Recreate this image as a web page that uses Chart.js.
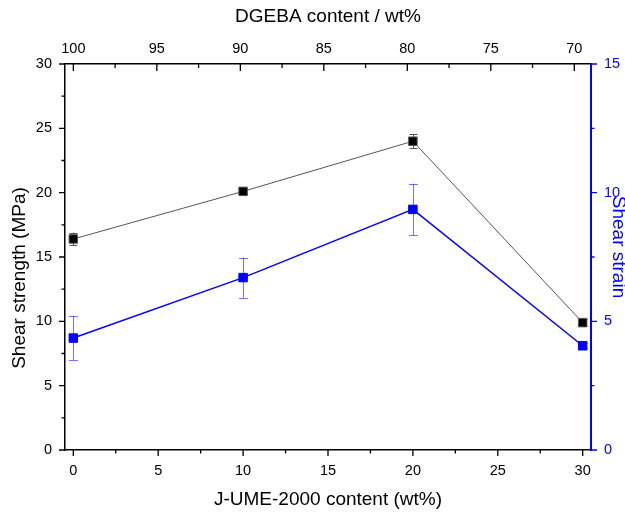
<!DOCTYPE html>
<html>
<head>
<meta charset="utf-8">
<script src="https://cdn.jsdelivr.net/npm/chart.js@4.4.0/dist/chart.umd.min.js"></script>
<style>
html, body { margin: 0; padding: 0; background: #fff; }
#wrap { width: 625px; height: 514px; }
</style>
</head>
<body>
<div id="wrap"><canvas id="chart" width="625" height="514"></canvas></div>
<script>
// data
const jumeContent = [0, 10, 20, 30];            // J-UME-2000 content (wt%)
const shearStrength = [16.4, 20.1, 24.0, 9.9];   // MPa, left axis
const shearStrengthErr = [0.5, 0.2, 0.55, 0.3];
const shearStrain = [4.35, 6.7, 9.35, 4.05];     // right axis
const shearStrainErr = [0.85, 0.78, 1.0, 0.1];

const FONT = "'Liberation Sans', Arial, sans-serif";
const BLUE = '#0000ff';

// error bars, drawn behind the markers
const errorBars = {
    id: 'errorBars',
    beforeDatasetsDraw(chart) {
        const ctx = chart.ctx;
        chart.data.datasets.forEach((ds, i) => {
            const meta = chart.getDatasetMeta(i);
            const xs = chart.scales[meta.xAxisID];
            const ys = chart.scales[meta.yAxisID];
            ctx.save();
            ctx.strokeStyle = ds.errColor;
            ctx.lineWidth = 1;
            ds.data.forEach((p, j) => {
                const e = ds.err[j];
                const x = Math.round(xs.getPixelForValue(p.x)) + 0.5;
                const y1 = ys.getPixelForValue(p.y + e);
                const y2 = ys.getPixelForValue(p.y - e);
                const cap = ds.capWidth / 2;
                ctx.beginPath();
                ctx.moveTo(x, y1); ctx.lineTo(x, y2);
                ctx.moveTo(x - cap, Math.round(y1) + 0.5); ctx.lineTo(x + cap, Math.round(y1) + 0.5);
                ctx.moveTo(x - cap, Math.round(y2) + 0.5); ctx.lineTo(x + cap, Math.round(y2) + 0.5);
                ctx.stroke();
            });
            ctx.restore();
        });
    }
};

// major + minor tick marks (Origin style: top ticks point inward)
const tickMarks = {
    id: 'tickMarks',
    afterDraw(chart) {
        const ctx = chart.ctx;
        const sets = [
            { s: chart.scales.x, dir: 1, color: '#000', major: 6, minor: 3.5 },
            { s: chart.scales.x2, dir: 1, color: '#000', major: 7, minor: 4 },
            { s: chart.scales.y, dir: -1, color: '#000', major: 6, minor: 3.5 },
            { s: chart.scales.y2, dir: 1, color: BLUE, major: 6, minor: 3.5 }
        ];
        sets.forEach(({ s, dir, color, major, minor }) => {
            const vals = s.ticks.map(t => t.value);
            const step = vals.length > 1 ? Math.abs(vals[1] - vals[0]) : 5;
            const all = [];
            vals.forEach(v => all.push({ v, len: major }));
            const lo = Math.min(...vals) - step, hi = Math.max(...vals) + step;
            for (let v = lo + step / 2; v < hi; v += step) {
                if (v >= s.min && v <= s.max) all.push({ v, len: minor });
            }
            ctx.save();
            ctx.strokeStyle = color;
            ctx.lineWidth = 1.3;
            ctx.beginPath();
            all.forEach(({ v, len }) => {
                const p = s.getPixelForValue(v);
                if (s.isHorizontal()) {
                    const y0 = s.position === 'bottom' ? s.top : s.bottom;
                    ctx.moveTo(p, y0); ctx.lineTo(p, y0 + dir * len);
                } else {
                    const x0 = s.position === 'left' ? s.right : s.left;
                    ctx.moveTo(x0, p); ctx.lineTo(x0 + dir * len, p);
                }
            });
            ctx.stroke();
            ctx.restore();
        });
    }
};

// axis titles
const axisTitles = {
    id: 'axisTitles',
    afterDraw(chart) {
        const ctx = chart.ctx;
        ctx.save();
        ctx.font = '19px ' + FONT;
        ctx.textAlign = 'center';
        ctx.textBaseline = 'middle';
        ctx.fillStyle = '#000';
        ctx.fillText('DGEBA content / wt%', 328, 17);
        ctx.fillText('J-UME-2000 content (wt%)', 328, 500);
        ctx.save();
        ctx.translate(20, 278);
        ctx.rotate(-Math.PI / 2);
        ctx.fillText('Shear strength (MPa)', 0, 0);
        ctx.restore();
        ctx.fillStyle = BLUE;
        ctx.translate(618, 247);
        ctx.rotate(Math.PI / 2);
        ctx.fillText('Shear strain', 0, 0);
        ctx.restore();
    }
};

const tickFont = { family: FONT, size: 14.5 };

new Chart(document.getElementById('chart'), {
    type: 'line',
    data: {
        datasets: [
            {
                label: 'Shear strength',
                data: jumeContent.map((x, i) => ({ x, y: shearStrength[i] })),
                err: shearStrengthErr,
                errColor: '#555',
                capWidth: 8,
                xAxisID: 'x',
                yAxisID: 'y',
                borderColor: '#555',
                borderWidth: 1,
                pointStyle: 'rect',
                pointRadius: 6,
                pointBackgroundColor: '#000',
                pointBorderColor: '#555',
                pointBorderWidth: 1,
                tension: 0
            },
            {
                label: 'Shear strain',
                data: jumeContent.map((x, i) => ({ x, y: shearStrain[i] })),
                err: shearStrainErr,
                errColor: 'rgba(0,0,255,0.55)',
                capWidth: 9,
                xAxisID: 'x',
                yAxisID: 'y2',
                borderColor: BLUE,
                borderWidth: 1.5,
                pointStyle: 'rect',
                pointRadius: 6,
                pointBackgroundColor: BLUE,
                pointBorderColor: BLUE,
                pointBorderWidth: 1,
                tension: 0
            }
        ]
    },
    options: {
        responsive: false,
        animation: false,
        devicePixelRatio: 1,
        layout: { padding: 0 },
        plugins: { legend: { display: false }, tooltip: { enabled: false } },
        scales: {
            x: {
                type: 'linear', position: 'bottom', min: -0.49, max: 30.49,
                ticks: { stepSize: 5, includeBounds: false, padding: 12, color: '#000', font: tickFont, maxRotation: 0 },
                grid: { display: false, drawTicks: false },
                border: { display: true, color: '#000', width: 1.5 },
                afterFit: s => { s.height = 64; }
            },
            x2: {
                type: 'linear', position: 'top', reverse: true, min: 69.0, max: 100.5,
                ticks: { stepSize: 5, includeBounds: false, padding: 6, color: '#000', font: tickFont, maxRotation: 0 },
                grid: { display: false, drawTicks: false },
                border: { display: true, color: '#000', width: 1.5 },
                afterFit: s => { s.height = 64; }
            },
            y: {
                type: 'linear', position: 'left', min: 0, max: 30,
                ticks: { stepSize: 5, includeBounds: false, padding: 13, color: '#000', font: tickFont },
                grid: { display: false, drawTicks: false },
                border: { display: true, color: '#000', width: 1.5 },
                afterFit: s => { s.width = 65; }
            },
            y2: {
                type: 'linear', position: 'right', min: 0, max: 15,
                ticks: { stepSize: 5, includeBounds: false, padding: 13, color: BLUE, font: tickFont },
                grid: { display: false, drawTicks: false },
                border: { display: true, color: BLUE, width: 2 },
                afterFit: s => { s.width = 34; }
            }
        }
    },
    plugins: [errorBars, tickMarks, axisTitles]
});
</script>
</body>
</html>
